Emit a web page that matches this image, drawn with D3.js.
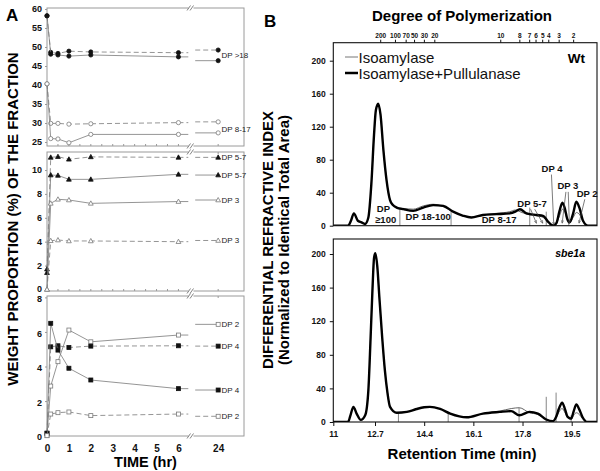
<!DOCTYPE html>
<html><head><meta charset="utf-8">
<script src="https://cdn.jsdelivr.net/npm/d3@7"></script>
<style>
body{margin:0;background:#fff}
svg{display:block}
text{font-family:"Liberation Sans",Arial,sans-serif}
</style>
</head><body>
<svg id="c" width="600" height="471"></svg>
<script>
// ---------------- DATA: panel A ----------------
const hours = [0, 0.17, 0.5, 1, 2, 6, 24];
const hourTicks = [0, 1, 2, 3, 4, 5, 6, 24];
const yTicksTop = [25, 30, 35, 40, 45, 50, 55, 60];
const yTicksMid = [0, 2, 4, 6, 8, 10];
const yTicksBot = [0, 2, 4, 6, 8];

const dpGt18Dash  = [58.2, 48.6, 48.3, 48.9, 48.7, 48.5, 49.2];
const dpGt18Solid = [58.2, 48.1, 47.9, 47.6, 47.9, 47.4, 46.4];
const dp817Dash   = [40.3, 29.9, 29.9, 29.7, 29.8, 30.1, 30.3];
const dp817Solid  = [40.3, 25.9, 25.8, 24.8, 27.0, 27.0, 27.4];
const dp57Dash    = [1.7, 11.06, 11.12, 10.9, 11.1, 11.06, 11.06];
const dp57Solid   = [1.4, 9.58, 9.55, 9.22, 9.22, 9.64, 9.58];
const dp3Solid    = [0, 7.21, 7.55, 7.49, 7.21, 7.36, 7.49];
const dp3Dash     = [0, 4.08, 4.14, 4.06, 4.06, 4.0, 4.1];
const dp2Solid    = [0, 2.87, 4.28, 6.11, 5.43, 5.82, 6.44];
const dp4Dash     = [0.14, 5.14, 5.2, 5.1, 5.18, 5.2, 5.18];
const dp4Solid    = [0.14, 6.5, 4.95, 3.9, 3.22, 2.72, 2.64];
const dp2Dash     = [0, 1.25, 1.33, 1.37, 1.16, 1.25, 1.12];

const labelsA = [
  {panel:0, text:"DP >18", v:47.8},
  {panel:0, text:"DP 8-17", v:28.4},
  {panel:1, text:"DP 5-7", v:11.06},
  {panel:1, text:"DP 5-7", v:9.58},
  {panel:1, text:"DP 3", v:7.49},
  {panel:1, text:"DP 3", v:4.1},
  {panel:2, text:"DP 2", v:6.44},
  {panel:2, text:"DP 4", v:5.18},
  {panel:2, text:"DP 4", v:2.64},
  {panel:2, text:"DP 2", v:1.12}
];

// ---------------- DATA: panel B ----------------
const rtTicks = [11, 12.7, 14.4, 16.1, 17.8, 19.5];
const yTicksB = [0, 40, 80, 120, 160, 200];
const dpTickLabels = ["200","100","70","50","30","20","10","8","7","6","5","4","3","2"];
const dpTickTimes  = [12.88, 13.39, 13.76, 14.05, 14.39, 14.75, 17.03, 17.69, 18.03, 18.25, 18.48, 18.69, 19.05, 19.55];

const wtTime = [11.0, 11.6, 11.72, 11.84, 12.0, 12.15, 12.29, 12.43, 12.55, 12.66, 12.73, 12.81, 12.89, 12.99, 13.1, 13.22, 13.32, 13.45, 13.68, 14.02, 14.37, 14.71, 15.06, 15.4, 15.75, 16.03, 16.43, 16.9, 17.36, 17.55, 17.71, 17.94, 18.29, 18.51, 18.68, 18.86, 18.97, 19.08, 19.18, 19.27, 19.34, 19.43, 19.55, 19.66, 19.78, 19.89, 20.06, 20.37];
const wtPull = [0, 0, 6, 15, 6, 4, 2, 10, 50, 110, 140, 148, 135, 92, 55, 31, 25, 22, 20, 18, 22, 25, 24, 17, 12, 10, 13, 14, 15, 17, 20, 15, 13, 12, 5, 0, 3, 18, 28, 20, 9, 4, 15, 29, 20, 6, 0, 0];
const wtIso  = [0, 0, 6, 15, 6, 4, 2, 10, 50, 110, 140, 147, 134, 92, 55, 31, 25, 22, 21, 20, 24, 26, 23, 17, 12, 10, 13, 15, 17, 19, 17, 14, 12, 10, 5, 1, 3, 12, 20, 16, 8, 4, 10, 16, 13, 5, 0, 0];

const sbTime = [11.0, 11.6, 11.7, 11.82, 11.95, 12.12, 12.3, 12.43, 12.52, 12.6, 12.66, 12.71, 12.78, 12.85, 12.95, 13.04, 13.13, 13.22, 13.45, 13.8, 14.14, 14.4, 14.6, 14.95, 15.3, 15.87, 16.43, 17.01, 17.41, 17.69, 18.04, 18.33, 18.62, 18.85, 18.96, 19.06, 19.17, 19.27, 19.36, 19.48, 19.57, 19.66, 19.76, 19.87, 20.04, 20.37];
const sbPull = [0, 0, 8, 18, 10, 2.5, 8, 38, 100, 160, 195, 201, 185, 149, 100, 62, 35, 18, 11, 12, 15.5, 17.5, 18, 15.5, 10, 5.6, 10, 12, 13, 8, 12, 10, 3, 1, 6, 16, 23, 15, 6, 4, 13, 21, 15, 6, 0, 0];
const sbIso  = [0, 0, 8, 18, 10, 2.5, 8, 38, 100, 160, 195, 200, 184, 149, 100, 62, 35, 18, 11, 12, 15.5, 17.5, 18, 15.5, 10, 5.6, 10, 13, 16, 17, 11, 9, 3, 1, 5, 12, 16, 11, 5, 3, 8, 11, 9, 4, 0, 0];

const wtCutTimes = [13.56, 15.33, 18.05, 18.62, 19.4];
const wtCutHeights = [21, 17, 22, 17, 8];
const sbCutTimes = [13.51, 15.23, 17.68, 18.62, 18.96, 19.48];
const sbCutHeights = [11, 10, 17, 30, 35, 8];

const annotText = ["DP", "\u2265100", "DP 18-100", "DP 8-17", "DP 5-7", "DP 4", "DP 3", "DP 2"];
const annotT    = [12.99, 13.07, 14.54, 16.99, 18.13, 18.82, 19.37, 20.03];
const annotV    = [17, 3.6, 6.9, 3.6, 22.3, 65.5, 44.5, 35];
const arrowsWt = [
  [18.08, 20, 18.28, 3], [18.22, 20, 18.5, 3], [18.8, 62, 18.88, 1],
  [19.3, 41, 19.17, 3], [19.38, 41, 19.42, 3], [19.95, 32, 19.75, 3]
];

// ---------------- DRAWING ----------------
const svg = d3.select("#c");
const defs = svg.append("defs");
defs.append("marker").attr("id","arr").attr("viewBox","0 0 10 10").attr("refX",9).attr("refY",5)
  .attr("markerWidth",5).attr("markerHeight",5).attr("orient","auto")
  .append("path").attr("d","M0,1 L9,5 L0,9").attr("fill","none").attr("stroke","#444").attr("stroke-width",1.3);

const GRAY = "#7a7a7a", FRAME = "#9a9a9a";

// Panel A scales
const xA = d3.scaleLinear().domain([0, 6.5, 22.85, 25.18]).range([47, 189.4, 193, 244]);
const panelsA = [
  {y: d3.scaleLinear().domain([23.95, 60.26]).range([146, 8]), top: 8, bot: 146, ticks: yTicksTop},
  {y: d3.scaleLinear().domain([-0.13, 11.51]).range([291, 152]), top: 152, bot: 291, ticks: yTicksMid},
  {y: d3.scaleLinear().domain([-0.02, 8.08]).range([436, 296]), top: 296, bot: 436, ticks: yTicksBot}
];
const seriesA = [
  {p:0, v:dpGt18Dash, dash:true, m:"circle", fill:true},
  {p:0, v:dpGt18Solid, dash:false, m:"circle", fill:true},
  {p:0, v:dp817Dash, dash:true, m:"circle", fill:false},
  {p:0, v:dp817Solid, dash:false, m:"circle", fill:false},
  {p:1, v:dp57Dash, dash:true, m:"triangle", fill:true},
  {p:1, v:dp57Solid, dash:false, m:"triangle", fill:true},
  {p:1, v:dp3Solid, dash:false, m:"triangle", fill:false},
  {p:1, v:dp3Dash, dash:true, m:"triangle", fill:false},
  {p:2, v:dp2Solid, dash:false, m:"square", fill:false},
  {p:2, v:dp4Dash, dash:true, m:"square", fill:true},
  {p:2, v:dp4Solid, dash:false, m:"square", fill:true},
  {p:2, v:dp2Dash, dash:true, m:"square", fill:false}
];

const gA = svg.append("g");
panelsA.forEach((P, i) => {
  gA.append("rect").attr("x", 47).attr("y", P.top).attr("width", 197).attr("height", P.bot - P.top)
    .attr("fill", "none").attr("stroke", FRAME).attr("stroke-width", 1);
  const ax = gA.append("g").attr("transform", "translate(47,0)")
    .call(d3.axisLeft(P.y).tickValues(P.ticks).tickSize(2).tickPadding(3).tickFormat(d3.format("d")));
  ax.select(".domain").remove();
  ax.selectAll("line").attr("stroke", FRAME);
  ax.selectAll("text").attr("font-size", 9).attr("font-weight", "bold").attr("fill", "#111")
    .attr("font-family", "Liberation Sans, Arial, sans-serif");
  if (i === 2) ax.selectAll("text").attr("dy", "0.45em");
  if (i === 1) ax.selectAll("text").attr("dy", "0.28em");
  if (i < 2) {
    const mt = d3.range(0.5, 6.6, 0.5).concat([24]);
    gA.selectAll(null).data(mt).enter().append("line")
      .attr("x1", d => xA(d)).attr("x2", d => xA(d)).attr("y1", P.bot).attr("y2", P.bot - 2)
      .attr("stroke", FRAME);
  }
  if (i > 0) {
    gA.append("line").attr("x1", xA(24)).attr("x2", xA(24)).attr("y1", P.top).attr("y2", P.top + 2).attr("stroke", FRAME);
  }
  [P.top, P.bot].forEach(yy => {
    gA.append("rect").attr("x", 188.5).attr("y", yy - 2).attr("width", 5).attr("height", 4).attr("fill", "#fff");
    [188.5, 191.5].forEach(bx => gA.append("line").attr("x1", bx - 1.5).attr("y1", yy + 2.5).attr("x2", bx + 2).attr("y2", yy - 2.5)
      .attr("stroke", "#666").attr("stroke-width", 0.8));
  });
});

const axX = gA.append("g").attr("transform", "translate(0,436)")
  .call(d3.axisBottom(xA).tickValues(hourTicks).tickSize(0).tickPadding(8.5).tickFormat(d3.format("d")));
axX.select(".domain").remove();
axX.selectAll("text").attr("font-size", 10).attr("font-weight", "bold").attr("fill", "#111")
  .attr("font-family", "Liberation Sans, Arial, sans-serif");

const lineA = (P) => d3.line().x(d => xA(d[0])).y(d => P.y(d[1]));
seriesA.forEach(s => {
  const P = panelsA[s.p];
  const pts = hours.slice(0, 6).map((h, k) => [h, s.v[k]]);
  const segs = [pts, [[6, s.v[5]], [6.45, s.v[5]]], [[22.95, s.v[6]], [24, s.v[6]]]];
  segs.forEach(sg => {
    const p = gA.append("path").attr("d", lineA(P)(sg)).attr("stroke", GRAY).attr("stroke-width", 0.8).attr("fill", "none");
    if (s.dash) p.attr("stroke-dasharray", "5,3");
  });
  hours.forEach((h, k) => {
    const cx = xA(h), cy = P.y(s.v[k]);
    let el;
    if (s.m === "circle") el = gA.append("circle").attr("cx", cx).attr("cy", cy).attr("r", 2.1);
    else if (s.m === "square") el = gA.append("rect").attr("x", cx - 2).attr("y", cy - 2).attr("width", 4).attr("height", 4);
    else el = gA.append("path").attr("d", `M${cx},${cy - 2.5}L${cx + 2.4},${cy + 1.8}L${cx - 2.4},${cy + 1.8}Z`);
    el.attr("fill", s.fill ? "#111" : "#fff").attr("stroke", s.fill ? "#111" : GRAY).attr("stroke-width", 0.8);
  });
});
labelsA.forEach(L => {
  gA.append("text").attr("x", 221.5).attr("y", panelsA[L.panel].y(L.v)).attr("dy", "0.35em")
    .attr("font-size", 8).attr("fill", "#222").text(L.text);
});

svg.append("text").attr("x", 6).attr("y", 21).attr("font-size", 17).attr("font-weight", "bold").text("A");
svg.append("text").attr("transform", "translate(17.5,219) rotate(-90)").attr("text-anchor", "middle")
  .attr("font-size", 15).attr("font-weight", "bold").text("WEIGHT PROPORTION (%) OF THE FRACTION");
svg.append("text").attr("x", 145.5).attr("y", 467).attr("text-anchor", "middle")
  .attr("font-size", 14.5).attr("font-weight", "bold").text("TIME (hr)");

// ---------------- Panel B ----------------
const xB = d3.scaleLinear().domain([11, 12.7, 19.5, 20.37]).range([333.3, 375, 571.7, 597]);
const panelsB = [
  {y: d3.scaleLinear().domain([0, 200]).range([225.7, 60.7]), top: 42.7, bot: 225.7, t: wtTime, pull: wtPull, iso: wtIso, cutT: wtCutTimes, cutH: wtCutHeights, id: "cb0"},
  {y: d3.scaleLinear().domain([0, 200]).range([422, 254]), top: 239, bot: 422, t: sbTime, pull: sbPull, iso: sbIso, cutT: sbCutTimes, cutH: sbCutHeights, id: "cb1"}
];
const gB = svg.append("g");
panelsB.forEach((P, i) => {
  defs.append("clipPath").attr("id", P.id).append("rect")
    .attr("x", 333.3).attr("y", P.top).attr("width", 597 - 333.3).attr("height", P.bot - P.top);
  const ay = gB.append("g").attr("transform", "translate(333.3,0)")
    .call(d3.axisLeft(P.y).tickValues(yTicksB).tickSize(3.5).tickPadding(4));
  ay.select(".domain").remove();
  ay.selectAll("line").attr("stroke", "#111");
  ay.selectAll("text").attr("font-size", 8.5).attr("font-weight", "bold").attr("fill", "#111")
    .attr("font-family", "Liberation Sans, Arial, sans-serif");
  P.cutT.forEach((t, k) => {
    gB.append("line").attr("x1", xB(t)).attr("x2", xB(t)).attr("y1", P.y(0)).attr("y2", P.y(P.cutH[k]))
      .attr("stroke", "#666").attr("stroke-width", 0.8);
  });
  const ln = d3.line().x((d, k) => xB(P.t[k])).y(d => P.y(d)).curve(d3.curveMonotoneX);
  const cg = gB.append("g").attr("clip-path", `url(#${P.id})`);
  cg.append("path").attr("d", ln(P.iso)).attr("fill", "none").attr("stroke", "#666").attr("stroke-width", 1);
  cg.append("path").attr("d", ln(P.pull)).attr("fill", "none").attr("stroke", "#000").attr("stroke-width", 2.4)
    .attr("stroke-linejoin", "round");
  gB.append("rect").attr("x", 333.3).attr("y", P.top).attr("width", 597 - 333.3).attr("height", P.bot - P.top)
    .attr("fill", "none").attr("stroke", "#111").attr("stroke-width", 1.1);
});

const axB = gB.append("g").attr("transform", "translate(0,422)")
  .call(d3.axisBottom(xB).tickValues(rtTicks).tickSize(4).tickPadding(5).tickFormat(d => d));
axB.select(".domain").remove();
axB.selectAll("line").attr("stroke", "#111");
axB.selectAll("text").attr("font-size", 8.5).attr("font-weight", "bold").attr("fill", "#111")
  .attr("font-family", "Liberation Sans, Arial, sans-serif");

const axT = gB.append("g").attr("transform", "translate(0,42.7)")
  .call(d3.axisTop(xB).tickValues(dpTickTimes).tickSize(3).tickPadding(2).tickFormat((d, k) => dpTickLabels[k]));
axT.select(".domain").remove();
axT.selectAll("line").attr("stroke", "#111");
axT.selectAll("text").attr("font-size", 6.5).attr("font-weight", "bold").attr("fill", "#111")
  .attr("font-family", "Liberation Sans, Arial, sans-serif");

svg.append("text").attr("x", 462).attr("y", 21).attr("text-anchor", "middle")
  .attr("font-size", 15).attr("font-weight", "bold").text("Degree of Polymerization");

const yW = panelsB[0].y;
annotText.forEach((tx, k) => {
  gB.append("text").attr("x", xB(annotT[k])).attr("y", yW(annotV[k])).attr("text-anchor", "middle")
    .attr("font-family", "Liberation Serif, Times New Roman, serif").attr("font-weight", "bold")
    .attr("font-size", 9.5).attr("fill", "#111").text(tx);
});
arrowsWt.forEach(a => {
  gB.append("line").attr("x1", xB(a[0])).attr("y1", yW(a[1])).attr("x2", xB(a[2])).attr("y2", yW(a[3]))
    .attr("stroke", "#444").attr("stroke-width", 0.7).attr("marker-end", "url(#arr)");
});

const legItems = [["Isoamylase", "#777", 1], ["Isoamylase+Pullulanase", "#000", 2.5]];
legItems.forEach((L, k) => {
  const yy = 57 + k * 16;
  gB.append("line").attr("x1", 345).attr("x2", 358).attr("y1", yy).attr("y2", yy).attr("stroke", L[1]).attr("stroke-width", L[2]);
  gB.append("text").attr("x", 358.5).attr("y", yy + 5.5).attr("font-size", 15).attr("fill", "#111").text(L[0]);
});
svg.append("text").attr("x", 585).attr("y", 63).attr("text-anchor", "end").attr("font-size", 13.5).attr("font-weight", "bold").text("Wt");
svg.append("text").attr("x", 585).attr("y", 257).attr("text-anchor", "end").attr("font-size", 10.5)
  .attr("font-weight", "bold").attr("font-style", "italic").text("sbe1a");

svg.append("text").attr("x", 264).attr("y", 27).attr("font-size", 17).attr("font-weight", "bold").text("B");
svg.append("text").attr("transform", "translate(273.3,240) rotate(-90)").attr("text-anchor", "middle")
  .attr("font-size", 15).attr("font-weight", "bold").text("DIFFERENTIAL REFRACTIVE INDEX");
svg.append("text").attr("transform", "translate(289,240) rotate(-90)").attr("text-anchor", "middle")
  .attr("font-size", 15).attr("font-weight", "bold").text("(Normalized to Identical Total Area)");
svg.append("text").attr("x", 462).attr("y", 459).attr("text-anchor", "middle")
  .attr("font-size", 15).attr("font-weight", "bold").text("Retention Time (min)");
</script>
</body></html>
